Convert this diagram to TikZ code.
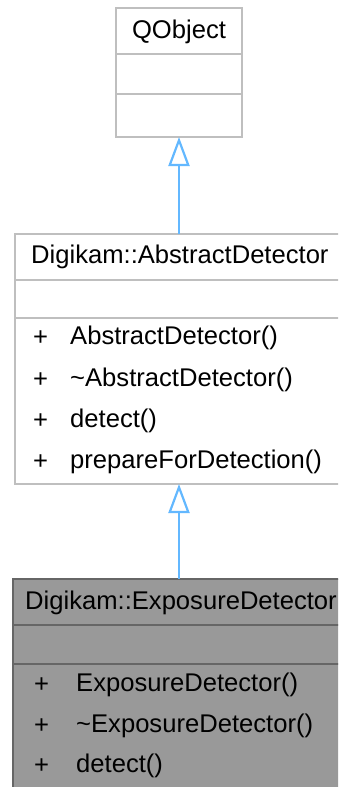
\documentclass[tikz,border=0pt]{standalone}
\usepackage{fontspec}
\setmainfont{Liberation Sans}
\usetikzlibrary{arrows.meta}
\definecolor{boxline}{HTML}{BFBFBF}
\definecolor{curfill}{HTML}{999999}
\definecolor{curline}{HTML}{666666}
\definecolor{edgeblue}{HTML}{63B8FF}
\begin{document}
\begin{tikzpicture}[x=1pt,y=-1pt,
  txt/.style={inner sep=0pt,font=\fontsize{25.6}{30}\selectfont,text=black},
  cls/.style={draw=boxline,line width=2.2pt,fill=white},
  curcls/.style={draw=curline,line width=2.2pt,fill=curfill},
  inherit/.style={draw=edgeblue,line width=2.2pt,-{Triangle[open,length=29pt,width=21pt,line width=2.2pt]}}]
\useasboundingbox (0,0) rectangle (338,787);
\clip (0,0) rectangle (338,787);
% QObject
\draw[cls] (116,8) rectangle (242,137);
\draw[boxline,line width=2.2pt] (116,54) -- (242,54) (116,94) -- (242,94);
\node[txt] (qobj) at (179,32) {QObject};
\coordinate (qbot) at (179,137);
% AbstractDetector
\draw[cls] (15,234) rectangle (345,484);
\draw[boxline,line width=2.2pt] (15,280) -- (345,280) (15,318) -- (345,318);
\node[txt,anchor=west] (abs) at (31,257) {Digikam::AbstractDetector};
\coordinate (abstop) at (179,234);
\coordinate (absbot) at (179,484);
\foreach \y/\t in {338/AbstractDetector(),380/\textasciitilde AbstractDetector(),421/detect(),462/prepareForDetection()}{
  \node[txt,anchor=west] at (33,\y) {+};
  \node[txt,anchor=west] at (70,\y) {\t};
}
% ExposureDetector
\draw[curcls] (13,579) rectangle (345,800);
\draw[curline,line width=2.2pt] (13,625) -- (345,625) (13,664) -- (345,664);
\node[txt,anchor=west] (exp) at (25,603) {Digikam::ExposureDetector};
\coordinate (exptop) at (179,579);
\foreach \y/\t in {685/ExposureDetector(),726/\textasciitilde ExposureDetector(),766/detect()}{
  \node[txt,anchor=west] at (34,\y) {+};
  \node[txt,anchor=west] at (76,\y) {\t};
}
% edges
\draw[inherit] (abstop) -- (qbot);
\draw[inherit] (exptop) -- (absbot);
\end{tikzpicture}
\end{document}
